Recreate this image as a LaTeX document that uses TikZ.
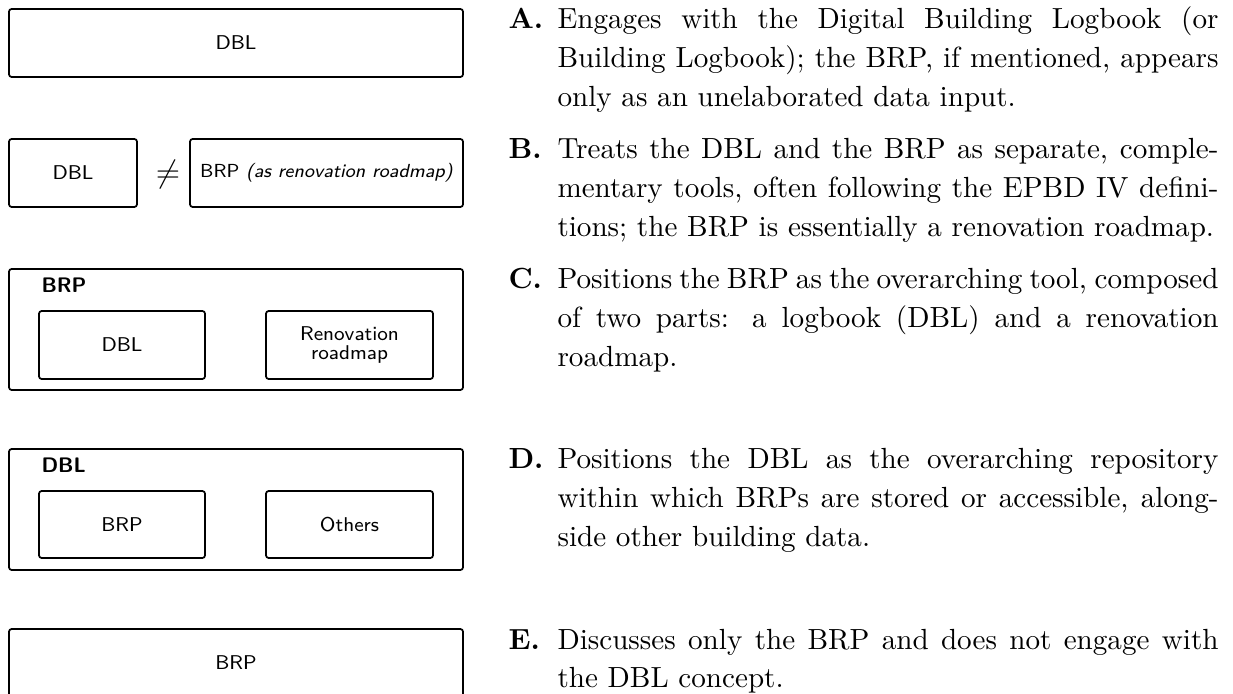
\documentclass[tikz,border=0pt]{standalone}
\usepackage{fontspec}
\newlength\colw
\setlength\colw{248.5pt}
\def\s{0.37594pt}
\newcommand\sfnt{\fontsize{7.5}{9}\selectfont\sffamily}
\newcommand\rmfnt{\fontsize{10.95}{14.66}\selectfont\rmfamily}
\newcommand\jl[1]{\makebox[\colw][s]{#1}\\}
\tikzset{
  box/.style={draw, rounded corners=1pt, line width=0.65pt, inner sep=0pt, font=\sfnt, align=center},
  lbl/.style={anchor=base west, inner sep=0pt, font=\rmfnt\bfseries},
  txt/.style={anchor=base west, inner sep=0pt, font=\rmfnt},
  grp/.style={anchor=base west, inner sep=0pt, font=\fontsize{7.9}{9}\selectfont\sffamily\bfseries}
}
\begin{document}
\begin{tikzpicture}[x=0.37594pt, y=-0.37594pt]
\useasboundingbox (0,0) rectangle (1233,694);
% Row A
\node[box, minimum width=454*\s, minimum height=68*\s] (a) at (236,43) {DBL};
% Row B
\node[box, minimum width=128*\s, minimum height=68*\s] (bdbl) at (73,173) {DBL};
\node[inner sep=0pt, font=\fontsize{13}{15}\selectfont] (neq) at (168,175) {$\neq$};
\node[box, minimum width=273*\s, minimum height=68*\s, font=\fontsize{7.1}{9}\selectfont\sffamily] (bbrp) at (326.5,173) {BRP \textit{(as renovation roadmap)}};
% Row C
\node[box, minimum width=454*\s, minimum height=121*\s] (c) at (236,329.5) {};
\node[grp] (cl) at (41,292.5) {BRP};
\node[box, minimum width=166*\s, minimum height=68*\s] (cdbl) at (122,345) {DBL};
\node[box, minimum width=167*\s, minimum height=68*\s, font=\fontsize{7.5}{6.9}\selectfont\sffamily] (crr) at (349.5,345) {Renovation\\roadmap};
% Row D
\node[box, minimum width=454*\s, minimum height=121*\s] (d) at (236,509.5) {};
\node[grp] (dl) at (41,472.5) {DBL};
\node[box, minimum width=166*\s, minimum height=67*\s] (dbrp) at (122,524.5) {BRP};
\node[box, minimum width=167*\s, minimum height=67*\s] (doth) at (349.5,524.5) {Others};
% Row E
\node[box, minimum width=454*\s, minimum height=68*\s] (e) at (236,663) {BRP};
% Texts
\node[lbl] (la) at (508,29) {A.};
\node[txt] (ta) at (557,29) {\parbox[t]{\colw}{\rmfnt
\jl{Engages with the Digital Building Logbook (or}
\jl{Building Logbook); the BRP, if mentioned, appears}
only as an unelaborated data input.}};
\node[lbl] (lb) at (508,159) {B.};
\node[txt] (tb) at (557,159) {\parbox[t]{\colw}{\rmfnt
\jl{Treats the DBL and the BRP as separate, comple-}
\jl{mentary tools, often following the EPBD IV defini-}
tions; the BRP is essentially a renovation roadmap.}};
\node[lbl] (lc) at (508,289) {C.};
\node[txt] (tc) at (557,289) {\parbox[t]{\colw}{\rmfnt
\jl{Positions the BRP as the overarching tool, composed}
\jl{of two parts: a logbook (DBL) and a renovation}
roadmap.}};
\node[lbl] (ld) at (508,469) {D.};
\node[txt] (td) at (557,469) {\parbox[t]{\colw}{\rmfnt
\jl{Positions the DBL as the overarching repository}
\jl{within which BRPs are stored or accessible, along-}
side other building data.}};
\node[lbl] (le) at (508,649) {E.};
\node[txt] (te) at (557,649) {\parbox[t]{\colw}{\rmfnt
\jl{Discusses only the BRP and does not engage with}
the DBL concept.}};
\end{tikzpicture}
\end{document}
